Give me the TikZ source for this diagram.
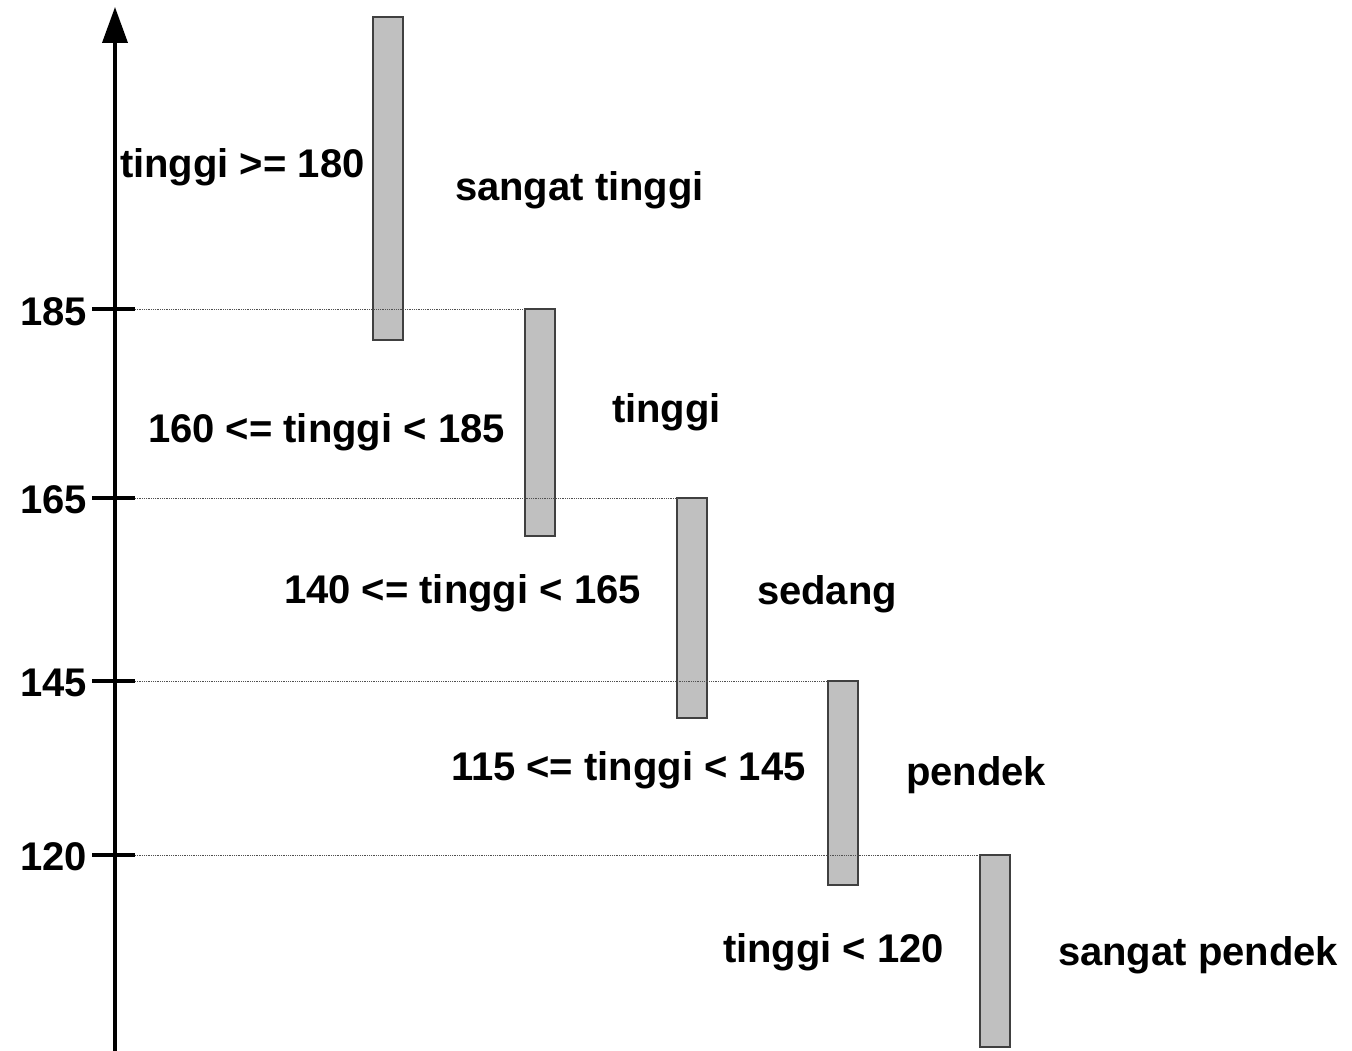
\documentclass[tikz,border=0pt]{standalone}
\usepackage{fontspec}
\setmainfont{Liberation Sans}
\usetikzlibrary{arrows.meta}
\definecolor{barfill}{HTML}{C0C0C0}
\definecolor{barline}{HTML}{404040}
\definecolor{guideline}{HTML}{505050}
\tikzset{
  barbox/.style={draw=barline, fill=barfill, line width=1.3pt, minimum width=30pt, inner sep=0pt, outer sep=0pt, anchor=north west},
  lbl/.style={font=\bfseries\fontsize{40}{48}\selectfont, anchor=base west, inner sep=0pt, outer sep=0pt},
  ticklbl/.style={font=\bfseries\fontsize{40}{48}\selectfont, anchor=base east, inner sep=0pt, outer sep=0pt},
  tickline/.style={line width=3.5pt},
  guide/.style={draw=guideline, line width=0.9pt, dash pattern=on 1pt off 0.8pt},
  axisline/.style={line width=3.8pt, -{Triangle[length=36pt,width=25pt]}}
}
\begin{document}
\begin{tikzpicture}[x=1pt,y=-1pt]
\useasboundingbox (0,0) rectangle (1352,1051);
% bars
\node[barbox, minimum height=323pt] (b1) at (373,17) {};
\node[barbox, minimum height=227pt] (b2) at (525,309) {};
\node[barbox, minimum height=220pt] (b3) at (677,498) {};
\node[barbox, minimum height=204pt] (b4) at (828,681) {};
\node[barbox, minimum height=192pt] (b5) at (980,855) {};
% axis
\coordinate (axb) at (115,1051);
\coordinate (axt) at (115,7);
\draw[axisline] (axb) -- (axt);
% ticks
\coordinate (t185l) at (92,309); \coordinate (t185r) at (135,309);
\coordinate (t165l) at (92,498); \coordinate (t165r) at (135,498);
\coordinate (t145l) at (92,681); \coordinate (t145r) at (135,681);
\coordinate (t120l) at (92,855); \coordinate (t120r) at (135,855);
\draw[tickline] (t185l) -- (t185r);
\draw[tickline] (t165l) -- (t165r);
\draw[tickline] (t145l) -- (t145r);
\draw[tickline] (t120l) -- (t120r);
% guides
\draw[guide] (t185r) -- (b2.north west);
\draw[guide] (t165r) -- (b3.north west);
\draw[guide] (t145r) -- (b4.north west);
\draw[guide] (t120r) -- (b5.north west);
% tick labels
\node[ticklbl] (l185) at (87,325) {185};
\node[ticklbl] (l165) at (87,513) {165};
\node[ticklbl] (l145) at (87,696) {145};
\node[ticklbl] (l120) at (87,870) {120};
% range labels
\node[lbl] (r1) at (120,178) {tinggi >= 180};
\node[lbl] (r2) at (148,442) {160 <= tinggi < 185};
\node[lbl] (r3) at (284,603) {140 <= tinggi < 165};
\node[lbl] (r4) at (451,780) {115 <= tinggi < 145};
\node[lbl] (r5) at (723,962) {tinggi < 120};
% category labels
\node[lbl] (c1) at (455,201) {sangat tinggi};
\node[lbl] (c2) at (612,422) {tinggi};
\node[lbl] (c3) at (757,604) {sedang};
\node[lbl] (c4) at (906,785) {pendek};
\node[lbl] (c5) at (1058,965) {sangat pendek};
\end{tikzpicture}
\end{document}
